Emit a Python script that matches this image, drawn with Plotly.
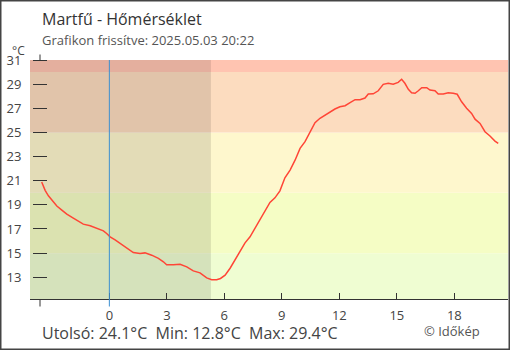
import plotly.graph_objects as go

# ---------------- data ----------------
title_text = "Martfű - Hőmérséklet"
subtitle_text = "Grafikon frissítve: 2025.05.03 20:22"
credit_text = "© Időkép"

hours = [-3.53, -3.35, -3.18, -3.0, -2.74, -2.48, -2.22, -1.88, -1.53, -1.36,
         -1.0, -0.66, -0.31, -0.14, 0.04, 0.30, 0.56, 0.91, 1.25, 1.6,
         1.86, 2.21, 2.56, 2.82, 2.99, 3.34, 3.69, 4.04, 4.38, 4.73,
         5.08, 5.34, 5.6, 5.8, 6.04, 6.30, 6.56, 6.82, 7.08, 7.34,
         7.6, 7.86, 8.12, 8.38, 8.64, 8.9, 9.16, 9.43, 9.69, 9.95,
         10.21, 10.47, 10.73, 10.99, 11.25, 11.51, 11.77, 12.03, 12.3, 12.56,
         12.82, 13.08, 13.34, 13.51, 13.77, 14.03, 14.29, 14.55, 14.81, 15.07,
         15.25, 15.42, 15.6, 15.77, 15.95, 16.12, 16.3, 16.56, 16.73, 16.99,
         17.16, 17.42, 17.68, 17.94, 18.15, 18.38, 18.64, 18.9, 19.08, 19.34,
         19.6, 19.86, 20.12, 20.29]
temps = [20.9, 20.2, 19.75, 19.4, 18.9, 18.56, 18.23, 17.9, 17.6, 17.4,
         17.27, 17.05, 16.85, 16.63, 16.35, 16.1, 15.8, 15.4, 15.05, 14.97,
         15.02, 14.83, 14.56, 14.28, 14.03, 14.03, 14.08, 13.86, 13.53, 13.37,
         12.95, 12.8, 12.8, 12.9, 13.17, 13.75, 14.45, 15.25, 15.85, 16.35,
         17.05, 17.73, 18.42, 19.2, 19.58, 20.16, 21.24, 21.88, 22.7, 23.68,
         24.23, 25.06, 25.8, 26.17, 26.44, 26.66, 26.94, 27.13, 27.21, 27.46,
         27.71, 27.71, 27.85, 28.18, 28.2, 28.45, 28.98, 29.07, 29.0, 29.15,
         29.4, 29.07, 28.57, 28.29, 28.24, 28.45, 28.7, 28.7, 28.51, 28.45,
         28.18, 28.18, 28.29, 28.24, 28.16, 27.54, 27.0, 26.58, 26.1, 25.75,
         25.06, 24.7, 24.28, 24.1]

x_tickvals = [0, 3, 6, 9, 12, 15, 18]
y_tickvals = [13, 15, 17, 19, 21, 23, 25, 27, 29, 31]
x_range = [-4.14, 20.8]
y_range = [11.2, 31]

band_limits = [11.2, 15, 20, 25, 30, 31]
band_colors = ["#effdd2", "#f5fdc5", "#fef7cd", "#fcdcbf", "#ffc4b1"]
sunrise_hour = 5.3
midnight_hour = 0

# ---------------- layout geometry ----------------
W, H = 510, 350
ML, MR, MT, MB = 30, 2, 60, 51
PW, PH = W - ML - MR, H - MT - MB


def px_x(px):
    return (px - ML) / PW


def px_y(py):
    return (H - MB - py) / PH


FONT = "Open Sans"
stub_pos = px_x(40)

fig = go.Figure()
fig.add_trace(go.Scatter(x=hours, y=temps, mode="lines",
                         line=dict(color="#ff4536", width=1.5),
                         hoverinfo="skip", showlegend=False))

shapes = []
for lo, hi, col in zip(band_limits[:-1], band_limits[1:], band_colors):
    shapes.append(dict(type="rect", xref="paper", yref="y", x0=0, x1=1,
                       y0=lo, y1=hi, fillcolor=col, line=dict(width=0),
                       layer="below"))
# night shading
shapes.append(dict(type="rect", xref="x", yref="paper", x0=x_range[0],
                   x1=sunrise_hour, y0=0, y1=1,
                   fillcolor="rgba(0,0,0,0.105)", line=dict(width=0),
                   layer="below"))
# midnight line
shapes.append(dict(type="line", xref="x", yref="paper", x0=midnight_hour,
                   x1=midnight_hour, y0=px_y(306.5), y1=1,
                   line=dict(color="#3b8fd0", width=1), layer="above"))
# y-axis stubs
shapes.append(dict(type="line", xref="paper", yref="paper", x0=stub_pos,
                   x1=stub_pos, y0=px_y(54.5), y1=px_y(60),
                   line=dict(color="#333", width=1)))
shapes.append(dict(type="line", xref="paper", yref="paper", x0=stub_pos,
                   x1=stub_pos, y0=px_y(300), y1=px_y(306.5),
                   line=dict(color="#333", width=1)))
# frame
shapes.append(dict(type="rect", xref="paper", yref="paper",
                   x0=px_x(0.75), x1=px_x(W - 0.75),
                   y0=px_y(H - 0.75), y1=px_y(0.75),
                   line=dict(color="#444", width=1.5)))

last_t, min_t, max_t = temps[-1], min(temps), max(temps)
stats_text = ("Utolsó: %.1f°C\u00a0\u00a0Min: %.1f°C\u00a0\u00a0Max: %.1f°C"
              % (last_t, min_t, max_t))

annotations = [
    dict(text=title_text, xref="paper", yref="paper", x=px_x(40), y=px_y(18.8),
         xanchor="left", yanchor="middle", showarrow=False,
         font=dict(family=FONT, size=16, color="#333")),
    dict(text=subtitle_text, xref="paper", yref="paper", x=px_x(40), y=px_y(40),
         xanchor="left", yanchor="middle", showarrow=False,
         font=dict(family=FONT, size=13, color="#555")),
    dict(text="°C", xref="paper", yref="paper", x=px_x(18.8), y=px_y(50.5),
         xanchor="center", yanchor="middle", showarrow=False,
         font=dict(family=FONT, size=12, color="#444")),
    dict(text=stats_text, xref="paper", yref="paper", x=px_x(40), y=px_y(333),
         xanchor="left", yanchor="middle", showarrow=False,
         font=dict(family=FONT, size=16, color="#444")),
    dict(text=credit_text, xref="paper", yref="paper", x=px_x(482), y=px_y(330.7),
         xanchor="right", yanchor="middle", showarrow=False,
         font=dict(family=FONT, size=13, color="#555")),
]

fig.update_layout(
    width=W, height=H,
    margin=dict(l=ML, r=MR, t=MT, b=MB, pad=0),
    paper_bgcolor="white", plot_bgcolor="white",
    showlegend=False, hovermode=False,
    shapes=shapes, annotations=annotations,
    xaxis=dict(range=x_range, tickvals=x_tickvals, ticks="inside", ticklen=6,
               tickcolor="#333", tickwidth=1, showline=True, linecolor="#333",
               linewidth=1, showgrid=False, zeroline=False,
               tickfont=dict(family=FONT, size=13, color="#444"),
               ticklabelstandoff=4, fixedrange=True),
    yaxis=dict(range=y_range, tickvals=y_tickvals, ticks="outside", ticklen=14,
               tickcolor="#333", tickwidth=1, showline=False, showgrid=False,
               zeroline=False, anchor="free", position=px_x(47),
               tickfont=dict(family=FONT, size=13, color="#444"),
               ticklabelstandoff=9, fixedrange=True),
)

fig.write_html("out.html", config={"displayModeBar": False})
